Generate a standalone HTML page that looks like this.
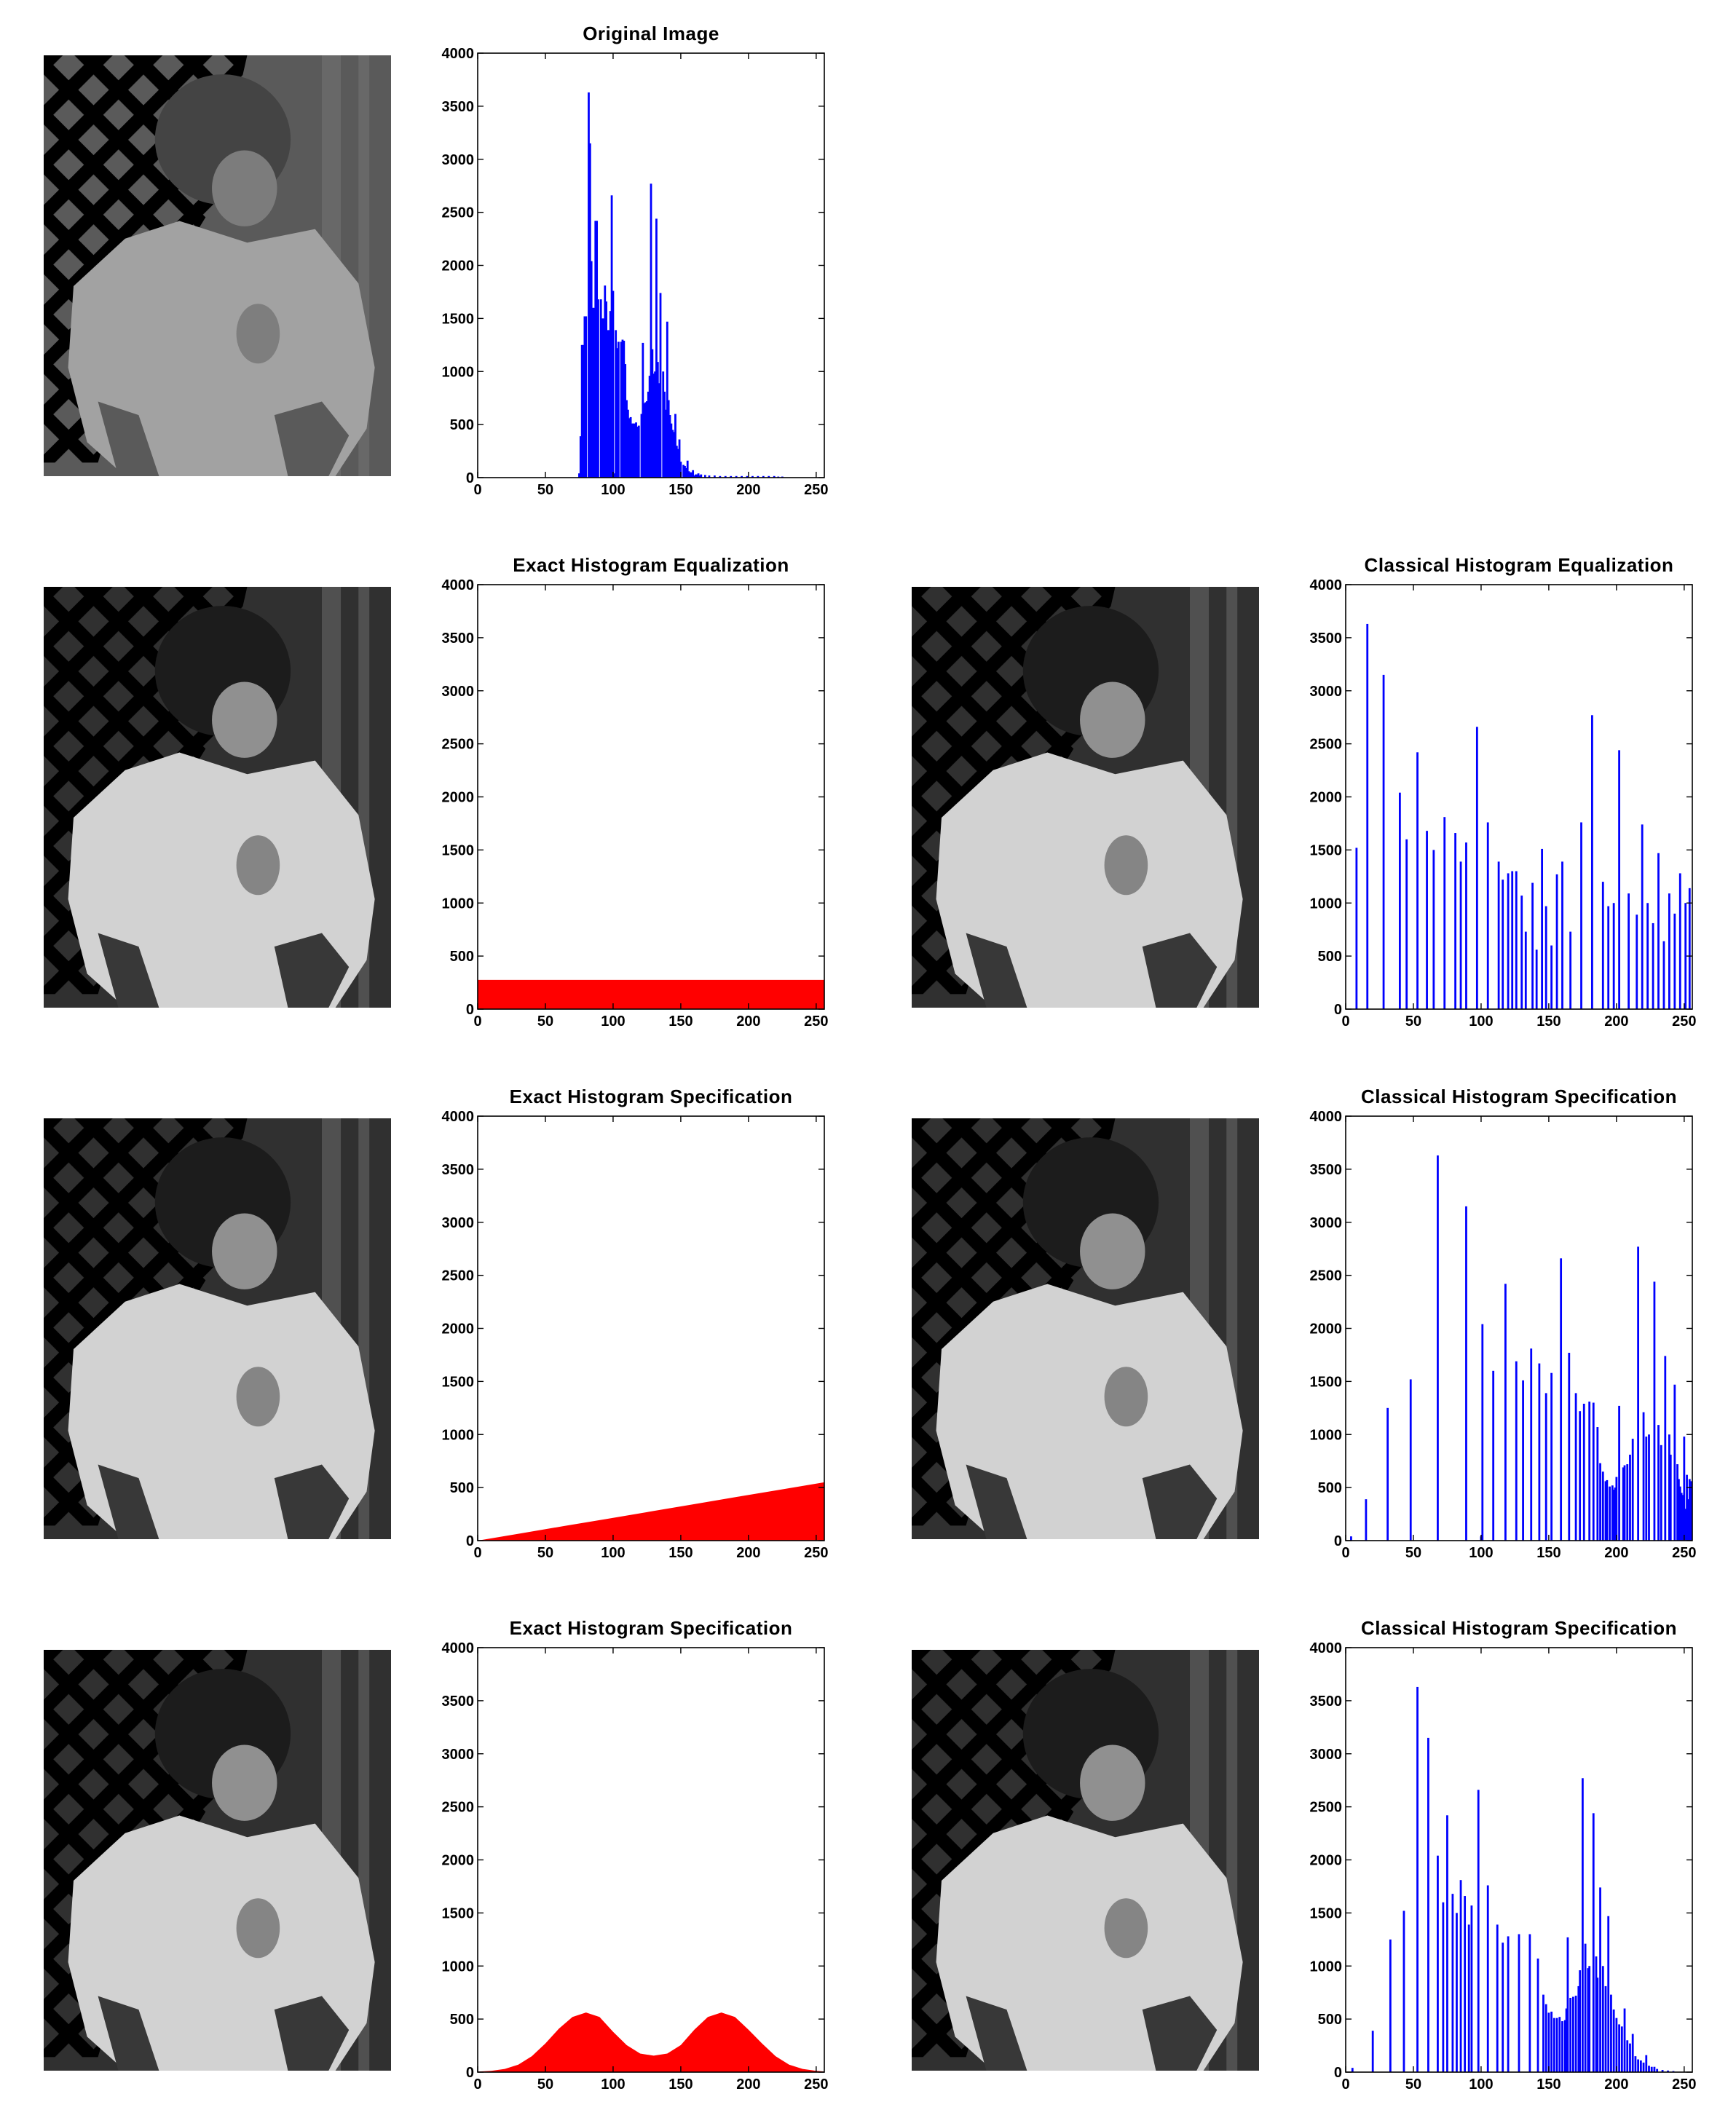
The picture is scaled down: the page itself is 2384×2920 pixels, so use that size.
<!DOCTYPE html>
<html><head><meta charset="utf-8"><style>
html,body{margin:0;padding:0;background:#fff;}
svg{display:block;}
text{font-family:"Liberation Sans",Arial,sans-serif;font-weight:bold;fill:#000;}
</style></head>
<body>
<svg id="fig" xmlns="http://www.w3.org/2000/svg" width="2384" height="2920" viewBox="0 0 2384 2920">
<defs>
<pattern id="lat" width="26" height="26" patternUnits="userSpaceOnUse" patternTransform="rotate(45)">
<rect width="26" height="26" fill="none"/>
<rect x="0" y="0" width="10" height="26" fill="currentColor"/>
<rect x="0" y="0" width="26" height="10" fill="currentColor"/>
</pattern>
</defs>
</svg>
<script>
// ---- data ----
const xTicks = [0,50,100,150,200,250];
const yTicks = [0,500,1000,1500,2000,2500,3000,3500,4000];
const titles = ["Original Image","Exact Histogram Equalization","Classical Histogram Equalization","Exact Histogram Specification","Classical Histogram Specification","Exact Histogram Specification","Classical Histogram Specification"];

const origBins = [75,76,77,78,79,80,82,83,84,85,86,87,88,89,
91,92,93,94,95,96,97,98,99,100,101,102,103,104,
106,107,108,109,110,111,112,113,114,115,116,117,118,119,
121,122,123,124,125,126,127,128,129,130,131,132,133,134,135,
137,138,139,140,141,142,143,144,145,146,147,148,149,150,
152,153,154,155,156,157,158,159,160,161,162,163,164,165,
168,171,175,179,183,187,191,195,199,203,207,211,215,219,222,225];
const origVals = [40,390,1250,1250,1520,1520,3630,3150,2040,1600,1600,2420,2420,1680,1680,1500,1500,1810,1660,1390,1390,1570,2660,1760,40,1390,1220,1280,1280,1300,1290,1070,730,640,560,570,510,510,510,520,480,490,600,1270,700,710,720,810,960,2770,1210,980,1000,2440,1090,890,1740,1000,810,640,1470,730,590,510,450,430,600,300,270,360,150,120,110,90,160,60,50,50,70,20,30,30,40,20,30,25,20,20,15,15,15,15,15,15,15,15,15,15,15,10,10];

const eqBins = [8,16,28,40,45,53,60,65,73,81,85,89,97,105,113,116,120,123,126,130,133,138,141,145,148,152,156,160,166,174,182,190,194,198,202,209,215,219,223,227,231,235,239,243,247,251,254];
const eqVals = [1520,3630,3150,2040,1600,2420,1680,1500,1810,1660,1390,1570,2660,1760,1390,1220,1280,1300,1300,1070,730,1190,560,1510,970,600,1270,1390,730,1760,2770,1200,970,1000,2440,1090,890,1740,1000,810,1470,640,1090,900,1280,1000,1140];

const spec1Bins = [4,15,31,48,68,89,100,101,109,118,126,131,137,143,148,152,159,165,170,173,176,180,183,186,188,190,192,193,195,197,198,199,200,202,205,206,208,210,212,216,220,222,224,228,231,233,236,239,240,243,245,246,247,248,249,250,251,252,253,254,255];
const spec1Vals = [40,390,1250,1520,3630,3150,40,2040,1600,2420,1690,1510,1810,1670,1390,1580,2660,1770,1390,1220,1290,1310,1300,1070,730,650,560,570,510,520,480,500,600,1270,690,710,720,810,960,2770,1210,980,1000,2440,1090,900,1740,1000,810,1470,720,580,510,450,430,980,300,620,390,580,560];

const spec2Bins = [5,20,33,43,53,61,68,72,75,79,82,85,88,91,93,98,105,112,116,120,128,136,142,146,148,150,152,154,156,158,160,162,163,164,166,168,170,172,173,175,177,179,180,183,185,186,188,190,192,194,196,198,200,202,204,206,208,210,212,214,216,218,220,222,224,226,228,230,234,238,242];
const spec2Vals = [40,390,1250,1520,3630,3150,2040,1600,2420,1680,1500,1810,1660,1390,1570,2660,1760,1390,1220,1280,1300,1300,1070,730,640,560,570,510,510,520,480,490,600,1270,700,710,720,810,960,2770,1210,980,1000,2440,1090,890,1740,1000,810,1470,730,590,510,450,430,600,300,270,360,150,120,110,90,160,60,50,50,30,20,15,10];

const flatBins = [0,64,128,192,256];
const flatVals = [275,275,275,275,275];
const rampBins = [0,32,64,96,128,160,192,224,256];
const rampVals = [0,69,138,206,275,344,413,481,550];
const bimBins = [0,10,20,30,40,50,60,70,80,90,100,110,120,130,140,150,160,170,180,190,200,210,220,230,240,250,256];
const bimVals = [5,12,30,70,150,270,410,520,562,520,380,255,175,155,175,255,400,520,562,520,400,270,150,70,30,12,6];

// ---- layout ----
const NS = "http://www.w3.org/2000/svg";
const svg = document.getElementById('fig');
const ROW0 = 73, ROWSTEP = 730, AXH = 583, AXW = 476;
const XMAX = 256, YMAX = 4000;

function mk(tag, attrs, parent){
  const e = document.createElementNS(NS, tag);
  for (const k in attrs) e.setAttribute(k, attrs[k]);
  (parent||svg).appendChild(e);
  return e;
}

function drawPhoto(x, y, name, lowContrast){
  const g = mk('g', {transform:`translate(${x},${y}) scale(${477/256},${578/310})`});
  
  
  const c = lowContrast ? {bg:'#5a5a5a',lat:'#7e7e7e',door:'#686868',hair:'#444444',face:'#7c7c7c',jacket:'#a2a2a2',dark:'#5a5a5a'}
                        : {bg:'#303030',lat:'#8a8a8a',door:'#505050',hair:'#1c1c1c',face:'#909090',jacket:'#d2d2d2',dark:'#383838'};
  mk('rect',{x:0,y:0,width:256,height:310,fill:c.bg},g);
  mk('polygon',{points:'0,0 150,0 125,110 70,200 40,300 0,300',fill:'url(#lat)',style:'color:'+c.lat},g);
  mk('rect',{x:205,y:0,width:14,height:310,fill:c.door},g);
  mk('rect',{x:232,y:0,width:8,height:310,fill:c.door},g);
  mk('ellipse',{cx:132,cy:62,rx:50,ry:48,fill:c.hair},g);
  mk('ellipse',{cx:148,cy:98,rx:24,ry:28,fill:c.face},g);
  mk('polygon',{points:'60,135 100,122 150,138 200,128 232,168 244,230 238,275 215,310 60,310 32,285 18,230 22,170',fill:c.jacket},g);
  mk('polygon',{points:'40,255 70,265 85,310 55,310',fill:c.dark},g);
  mk('polygon',{points:'170,265 205,255 225,280 210,310 180,310',fill:c.dark},g);
  mk('ellipse',{cx:158,cy:205,rx:16,ry:22,fill:c.dark,opacity:0.5},g);
}

function drawAxes(ax, ay, key, title, drawFn){
  const g = mk('g', {});
  
  
  const sx = v => ax + v / XMAX * AXW;
  const sy = v => ay + AXH - v / YMAX * AXH;
  drawFn(g, sx, sy);
  const frame = mk('rect',{x:ax,y:ay,width:AXW,height:AXH,fill:'none',stroke:'#000','stroke-width':1.6},g);
  
  
  yTicks.forEach(t => {
    const yy = sy(t);
    mk('line',{x1:ax,y1:yy,x2:ax+8,y2:yy,stroke:'#000','stroke-width':1.4},g);
    mk('line',{x1:ax+AXW,y1:yy,x2:ax+AXW-8,y2:yy,stroke:'#000','stroke-width':1.4},g);
    const tx = mk('text',{x:ax-5,y:yy+7,'text-anchor':'end','font-size':20},g);
    tx.textContent = t;
    
    
  });
  xTicks.forEach(t => {
    const xx = sx(t);
    mk('line',{x1:xx,y1:ay+AXH,x2:xx,y2:ay+AXH-8,stroke:'#000','stroke-width':1.4},g);
    mk('line',{x1:xx,y1:ay,x2:xx,y2:ay+8,stroke:'#000','stroke-width':1.4},g);
    const tx = mk('text',{x:xx,y:ay+AXH+23,'text-anchor':'middle','font-size':20},g);
    tx.textContent = t;
    
    
  });
  const tt = mk('text',{x:ax+AXW/2,y:ay-18,'text-anchor':'middle','font-size':26,'letter-spacing':0.5},g);
  tt.textContent = title;
  
  
}

function bars(bins, vals){
  return (g, sx, sy) => {
    bins.forEach((b, i) => {
      const x0 = sx(b - 0.75), x1 = sx(b + 0.75);
      const r = mk('rect',{x:x0,y:sy(vals[i]),width:Math.max(x1-x0,2.6),height:sy(0)-sy(vals[i]),fill:'#0000ff'},g);
      
      
    });
  };
}
function area(bins, vals){
  return (g, sx, sy) => {
    let pts = `${sx(bins[0])},${sy(0)} `;
    bins.forEach((b, i) => { pts += `${sx(b)},${sy(vals[i])} `; });
    pts += `${sx(bins[bins.length-1])},${sy(0)}`;
    const p = mk('polygon',{points:pts,fill:'#ff0000'},g);
    
    
  };
}

const rowY = r => ROW0 + ROWSTEP * r;
const LAX = 656, RAX = 1848, LIMG = 60, RIMG = 1252;

drawPhoto(LIMG, rowY(0)+3, 'original-image', true);
drawAxes(LAX, rowY(0), 'original-histogram', titles[0], bars(origBins, origVals));
drawPhoto(LIMG, rowY(1)+3, 'exact-equalized-image', false);
drawAxes(LAX, rowY(1), 'exact-equalization-histogram', titles[1], area(flatBins, flatVals));
drawPhoto(RIMG, rowY(1)+3, 'classical-equalized-image', false);
drawAxes(RAX, rowY(1), 'classical-equalization-histogram', titles[2], bars(eqBins, eqVals));
drawPhoto(LIMG, rowY(2)+3, 'exact-specified-image-ramp', false);
drawAxes(LAX, rowY(2), 'exact-specification-ramp-histogram', titles[3], area(rampBins, rampVals));
drawPhoto(RIMG, rowY(2)+3, 'classical-specified-image-ramp', false);
drawAxes(RAX, rowY(2), 'classical-specification-ramp-histogram', titles[4], bars(spec1Bins, spec1Vals));
drawPhoto(LIMG, rowY(3)+3, 'exact-specified-image-bimodal', false);
drawAxes(LAX, rowY(3), 'exact-specification-bimodal-histogram', titles[5], area(bimBins, bimVals));
drawPhoto(RIMG, rowY(3)+3, 'classical-specified-image-bimodal', false);
drawAxes(RAX, rowY(3), 'classical-specification-bimodal-histogram', titles[6], bars(spec2Bins, spec2Vals));
</script>
</body></html>
